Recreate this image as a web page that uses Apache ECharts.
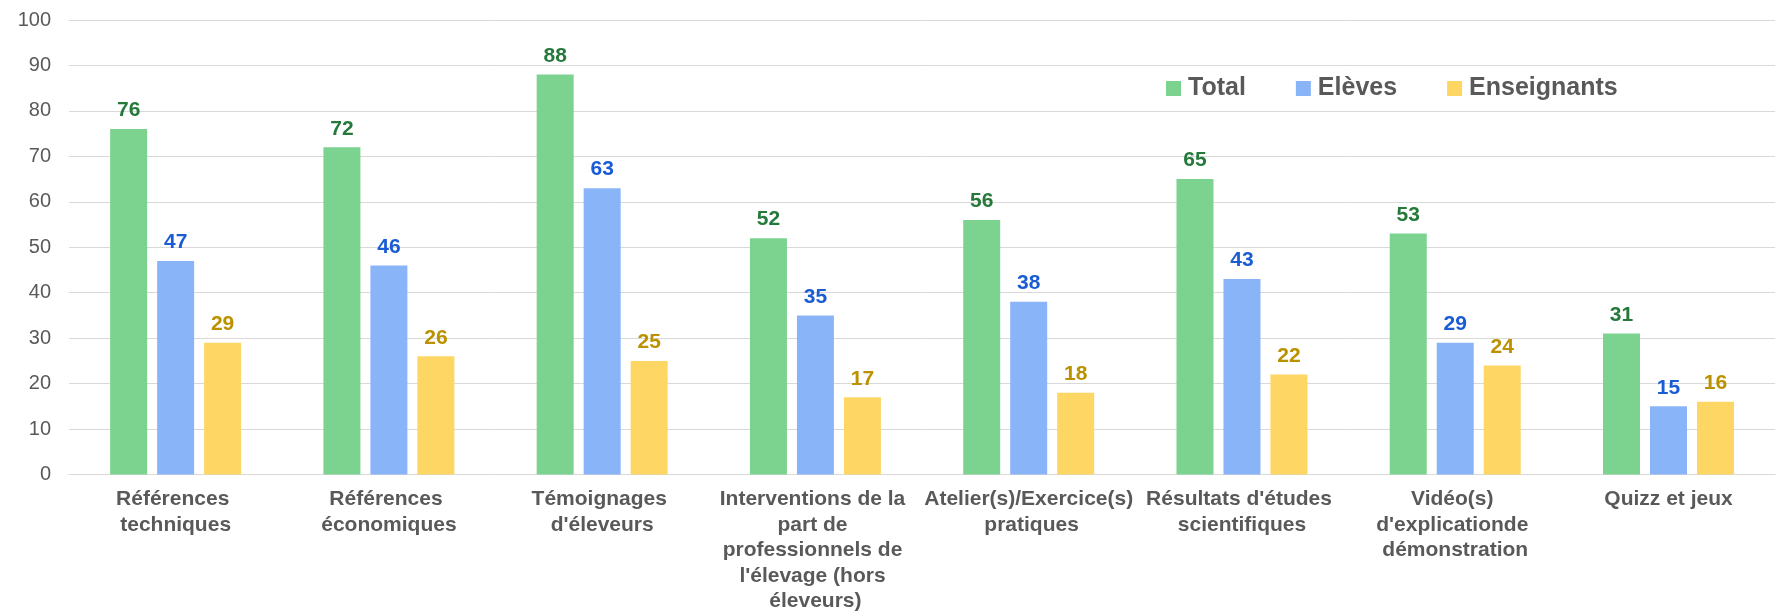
<!DOCTYPE html>
<html>
<head>
<meta charset="utf-8">
<script src="https://cdn.jsdelivr.net/npm/echarts@6/dist/echarts.min.js"></script>
<style>
  html, body { margin: 0; padding: 0; background: #fff; }
  #chart1 { width: 1778px; height: 614px; }
</style>
</head>
<body>
<div id="chart1"></div>
<script>
var categories = [
  'Références techniques',
  'Références économiques',
  "Témoignages d'éleveurs",
  "Interventions de la part de professionnels de l'élevage (hors éleveurs)",
  'Atelier(s)/Exercice(s) pratiques',
  "Résultats d'études scientifiques",
  "Vidéo(s) d'explicationde démonstration",
  'Quizz et jeux'
];
var totalValues = [76, 72, 88, 52, 56, 65, 53, 31];
var elevesValues = [47, 46, 63, 35, 38, 43, 29, 15];
var enseignantsValues = [29, 26, 25, 17, 18, 22, 24, 16];

var fontFam = '"Liberation Sans", Arial, sans-serif';

function barSeries(name, data, color, labelColor) {
  return {
    name: name,
    type: 'bar',
    data: data,
    barWidth: 37,
    barGap: '27%',
    itemStyle: { color: color },
    label: {
      show: true,
      position: 'top',
      distance: 8,
      color: labelColor,
      fontFamily: fontFam,
      fontWeight: 'bold',
      fontSize: 21
    }
  };
}

var chart = echarts.init(document.getElementById('chart1'));
var option = {
  backgroundColor: '#fff',
  animation: false,
  textStyle: { fontFamily: fontFam },
  grid: {
    left: 69,
    right: -5,
    top: 20,
    bottom: 139,
    containLabel: false
  },
  legend: {
    left: 1161,
    top: 71,
    itemWidth: 15,
    itemHeight: 15,
    itemGap: 50,
    icon: 'rect',
    textStyle: {
      fontFamily: fontFam,
      fontWeight: 'bold',
      fontSize: 25,
      color: '#595959',
      padding: [0, 0, 0, 2]
    },
    data: ['Total', 'Elèves', 'Enseignants']
  },
  xAxis: {
    type: 'category',
    data: categories,
    axisTick: { show: false },
    axisLine: { lineStyle: { color: '#d9d9d9', width: 1 } },
    axisLabel: {
      interval: 0,
      margin: 12,
      color: '#595959',
      fontFamily: fontFam,
      fontWeight: 'bold',
      fontSize: 21,
      lineHeight: 25.5,
      width: 214,
      overflow: 'break'
    }
  },
  yAxis: {
    type: 'value',
    min: 0,
    max: 100,
    interval: 10,
    axisLine: { show: false },
    axisTick: { show: false },
    splitLine: { lineStyle: { color: '#d9d9d9', width: 1 } },
    axisLabel: {
      margin: 18,
      color: '#595959',
      fontFamily: fontFam,
      fontSize: 20
    }
  },
  series: [
    barSeries('Total', totalValues, '#7bd38f', '#25793a'),
    barSeries('Elèves', elevesValues, '#8ab4f8', '#1a5cd4'),
    barSeries('Enseignants', enseignantsValues, '#fdd663', '#bb9100')
  ]
};
chart.setOption(option);
</script>
</body>
</html>
